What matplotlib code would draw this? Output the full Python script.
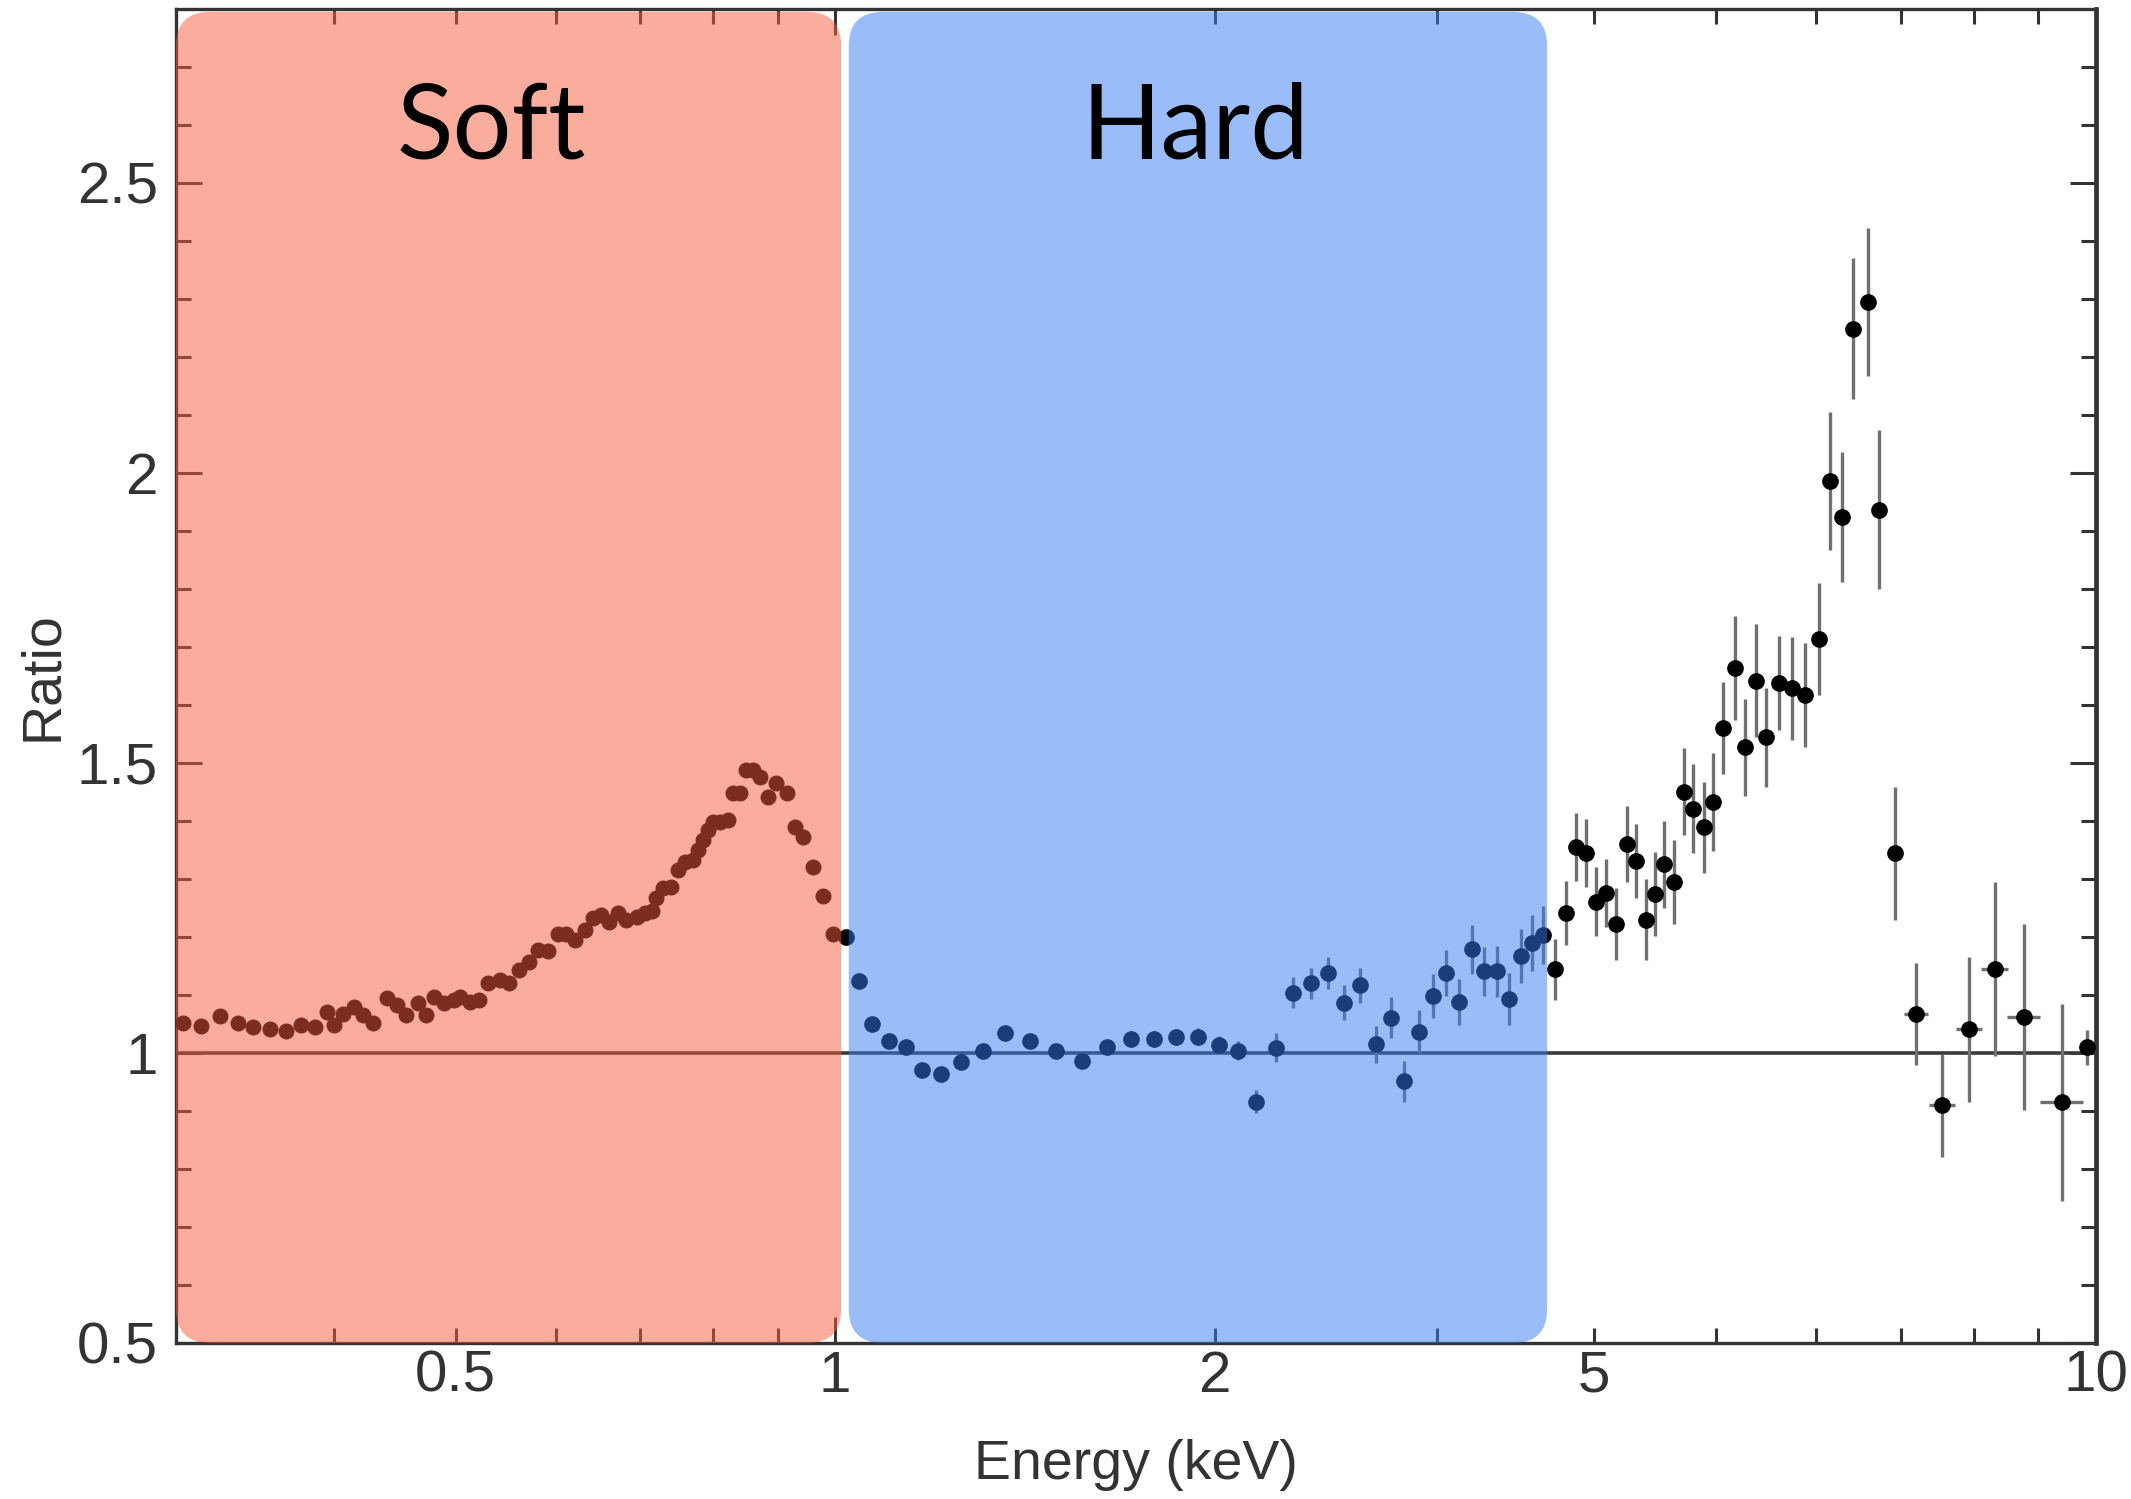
import matplotlib.pyplot as plt
from matplotlib.patches import FancyBboxPatch
from matplotlib.transforms import IdentityTransform

# ratio data (energy in keV)
soft_energy = [0.304, 0.314, 0.325, 0.336, 0.345, 0.356, 0.367, 0.377, 0.387, 0.395,
               0.400, 0.407, 0.415, 0.422, 0.430, 0.441, 0.449, 0.457, 0.467, 0.474,
               0.481, 0.489, 0.498, 0.504, 0.513, 0.522, 0.530, 0.542, 0.551, 0.561,
               0.572, 0.581, 0.592, 0.603, 0.612, 0.622, 0.633, 0.643, 0.652, 0.662,
               0.673, 0.683, 0.696, 0.706, 0.715, 0.721, 0.730, 0.741, 0.751, 0.760,
               0.771, 0.778, 0.785, 0.793, 0.800, 0.810, 0.822, 0.830, 0.840, 0.850,
               0.861, 0.871, 0.884, 0.898, 0.915, 0.929, 0.943, 0.960, 0.978, 0.996]
soft_ratio = [1.052, 1.047, 1.063, 1.052, 1.045, 1.041, 1.038, 1.048, 1.044, 1.071,
              1.048, 1.068, 1.080, 1.066, 1.051, 1.094, 1.083, 1.066, 1.086, 1.066,
              1.097, 1.086, 1.091, 1.097, 1.088, 1.091, 1.120, 1.126, 1.121, 1.143,
              1.157, 1.178, 1.176, 1.206, 1.206, 1.195, 1.212, 1.232, 1.238, 1.226,
              1.241, 1.229, 1.235, 1.241, 1.244, 1.267, 1.284, 1.287, 1.316, 1.330,
              1.333, 1.350, 1.367, 1.384, 1.399, 1.399, 1.401, 1.448, 1.449, 1.488,
              1.488, 1.476, 1.442, 1.465, 1.448, 1.389, 1.373, 1.321, 1.270, 1.206]

hard_energy = [1.020, 1.044, 1.070, 1.103, 1.137, 1.172, 1.214, 1.259, 1.310, 1.364,
               1.428, 1.497, 1.570, 1.644, 1.717, 1.789, 1.864, 1.939, 2.014, 2.086,
               2.155, 2.235, 2.307, 2.383, 2.459, 2.532, 2.606, 2.683, 2.757, 2.828,
               2.903, 2.979, 3.052, 3.123, 3.198, 3.273, 3.347, 3.421, 3.496, 3.571,
               3.641]
hard_ratio = [1.200, 1.124, 1.050, 1.021, 1.010, 0.970, 0.964, 0.984, 1.004, 1.034,
              1.021, 1.004, 0.987, 1.011, 1.024, 1.024, 1.028, 1.028, 1.014, 1.004,
              0.916, 1.009, 1.104, 1.120, 1.138, 1.087, 1.117, 1.015, 1.061, 0.951,
              1.037, 1.098, 1.138, 1.088, 1.179, 1.141, 1.141, 1.093, 1.167, 1.190,
              1.203]
hard_err = [0.010, 0.010, 0.010, 0.010, 0.010, 0.010, 0.010, 0.010, 0.010, 0.010,
            0.012, 0.012, 0.012, 0.012, 0.014, 0.014, 0.014, 0.015, 0.015, 0.016,
            0.020, 0.025, 0.027, 0.027, 0.028, 0.030, 0.030, 0.032, 0.035, 0.035,
            0.037, 0.038, 0.040, 0.040, 0.042, 0.042, 0.044, 0.045, 0.047, 0.048,
            0.050]

high_energy = [3.720, 3.801, 3.870, 3.940, 4.015, 4.088, 4.164, 4.245, 4.318, 4.398,
               4.465, 4.547, 4.631, 4.710, 4.794, 4.883, 4.966, 5.064, 5.168, 5.263,
               5.370, 5.469, 5.604, 5.739, 5.873, 6.028, 6.153, 6.290, 6.420, 6.592,
               6.733, 6.930, 7.200, 7.550, 7.930, 8.310, 8.760, 9.390, 9.830]
high_ratio = [1.144, 1.241, 1.355, 1.345, 1.261, 1.276, 1.223, 1.360, 1.331, 1.230,
              1.274, 1.325, 1.295, 1.450, 1.421, 1.389, 1.433, 1.560, 1.664, 1.527,
              1.642, 1.544, 1.638, 1.629, 1.617, 1.714, 1.987, 1.924, 2.249, 2.295,
              1.937, 1.344, 1.068, 0.910, 1.041, 1.145, 1.062, 0.915, 1.010]
high_err = [0.052, 0.055, 0.059, 0.059, 0.059, 0.059, 0.062, 0.066, 0.064, 0.070,
            0.073, 0.075, 0.073, 0.075, 0.077, 0.079, 0.084, 0.079, 0.090, 0.084,
            0.097, 0.086, 0.081, 0.089, 0.090, 0.097, 0.119, 0.112, 0.122, 0.128,
            0.137, 0.114, 0.088, 0.089, 0.125, 0.150, 0.160, 0.170, 0.030]
high_xerr = [0.03, 0.03, 0.03, 0.03, 0.03, 0.03, 0.03, 0.03, 0.03, 0.03,
             0.03, 0.03, 0.03, 0.03, 0.03, 0.03, 0.04, 0.04, 0.04, 0.04,
             0.04, 0.04, 0.04, 0.04, 0.05, 0.05, 0.05, 0.05, 0.05, 0.05,
             0.06, 0.07, 0.155, 0.185, 0.19, 0.20, 0.26, 0.37, 0.0]

# bands (keV) and labels
band_names = ["Soft", "Hard"]
band_lo = [0.3, 1.025]
band_hi = [1.011, 3.67]
band_colors = ["#F75D3D", "#377DF7"]
band_label_x = [0.534, 1.931]
band_label_y = 2.593

xmajor = [1, 10]
xmajor_labels = ["1", "10"]
xminor = [0.4, 0.5, 0.6, 0.7, 0.8, 0.9, 2, 3, 4, 5, 6, 7, 8, 9]
xminor_labels = ["", "0.5", "", "", "", "", "2", "", "5", "", "", "", "", ""]
ymajor = [0.5, 1.0, 1.5, 2.0, 2.5]
ymajor_labels = ["0.5", "1", "1.5", "2", "2.5"]
yminor = [0.6, 0.7, 0.8, 0.9, 1.1, 1.2, 1.3, 1.4, 1.6, 1.7, 1.8, 1.9,
          2.1, 2.2, 2.3, 2.4, 2.6, 2.7]

W, H = 2131, 1499
fig = plt.figure(figsize=(W / 100, H / 100), dpi=100)
ax = fig.add_axes([176 / W, 1 - 1343 / H, 1920 / W, 1334 / H])
ax.set_xscale("log")
ax.set_xlim(0.3, 10)
ax.set_ylim(0.5, 2.8)

ax.axhline(1.0, color="#3a3a3a", lw=2.6, zorder=2)
ax.plot(soft_energy, soft_ratio, "o", color="black", ms=10.5, zorder=3)
ax.errorbar(hard_energy, hard_ratio, yerr=hard_err, fmt="o", color="black",
            ecolor="#707070", elinewidth=2.4, capsize=0, ms=11, zorder=3)
ax.errorbar(high_energy, high_ratio, yerr=high_err, xerr=high_xerr, fmt="o",
            color="black", ecolor="#707070", elinewidth=2.4, capsize=0, ms=11, zorder=3)

ax.set_xticks(xmajor, xmajor_labels)
ax.set_xticks(xminor, xminor_labels, minor=True)
ax.set_yticks(ymajor, ymajor_labels)
ax.set_yticks(yminor, minor=True)
ax.tick_params(which="both", direction="in", top=True, right=True,
               colors="#333333", labelsize=42, width=2.2)
ax.tick_params(which="major", length=19)
ax.tick_params(which="minor", length=11)
ax.tick_params(axis="x", which="both", pad=5)
ax.tick_params(axis="y", which="both", pad=13)
for lab in ax.get_xticklabels() + ax.get_yticklabels() + ax.get_xticklabels(minor=True):
    lab.set_fontfamily("Liberation Sans")

for side in ["left", "bottom", "top"]:
    ax.spines[side].set_linewidth(2.4)
    ax.spines[side].set_color("#333333")
ax.spines["right"].set_linewidth(3.4)
ax.spines["right"].set_color("#333333")

ax.set_xlabel("Energy (keV)", fontsize=40, color="#333333", family="Liberation Sans")
ax.set_ylabel("Ratio", fontsize=40, color="#333333", family="Liberation Sans")
ax.xaxis.label.set_va("center")
ax.yaxis.label.set_va("center")
ax.xaxis.set_label_coords(0.5, -0.0915)
ax.yaxis.set_label_coords(-0.0693, 0.5)

# translucent rounded bands drawn over the data, in pixel space
for name, lo, hi, col, lx in zip(band_names, band_lo, band_hi, band_colors, band_label_x):
    px0, py0 = ax.transData.transform((lo, 0.5))
    px1, py1 = ax.transData.transform((hi, 2.795))
    patch = FancyBboxPatch((px0, py0), px1 - px0, py1 - py0,
                           boxstyle="round,pad=0,rounding_size=34",
                           transform=IdentityTransform(), facecolor=col,
                           edgecolor="none", alpha=0.5, zorder=5)
    fig.add_artist(patch)
    tx, ty = fig.transFigure.inverted().transform(ax.transData.transform((lx, band_label_y)))
    fig.text(tx, ty, name, fontsize=75, family="Lato", color="black",
             ha="center", va="center", zorder=6)

fig.savefig("out.png", dpi=100)
